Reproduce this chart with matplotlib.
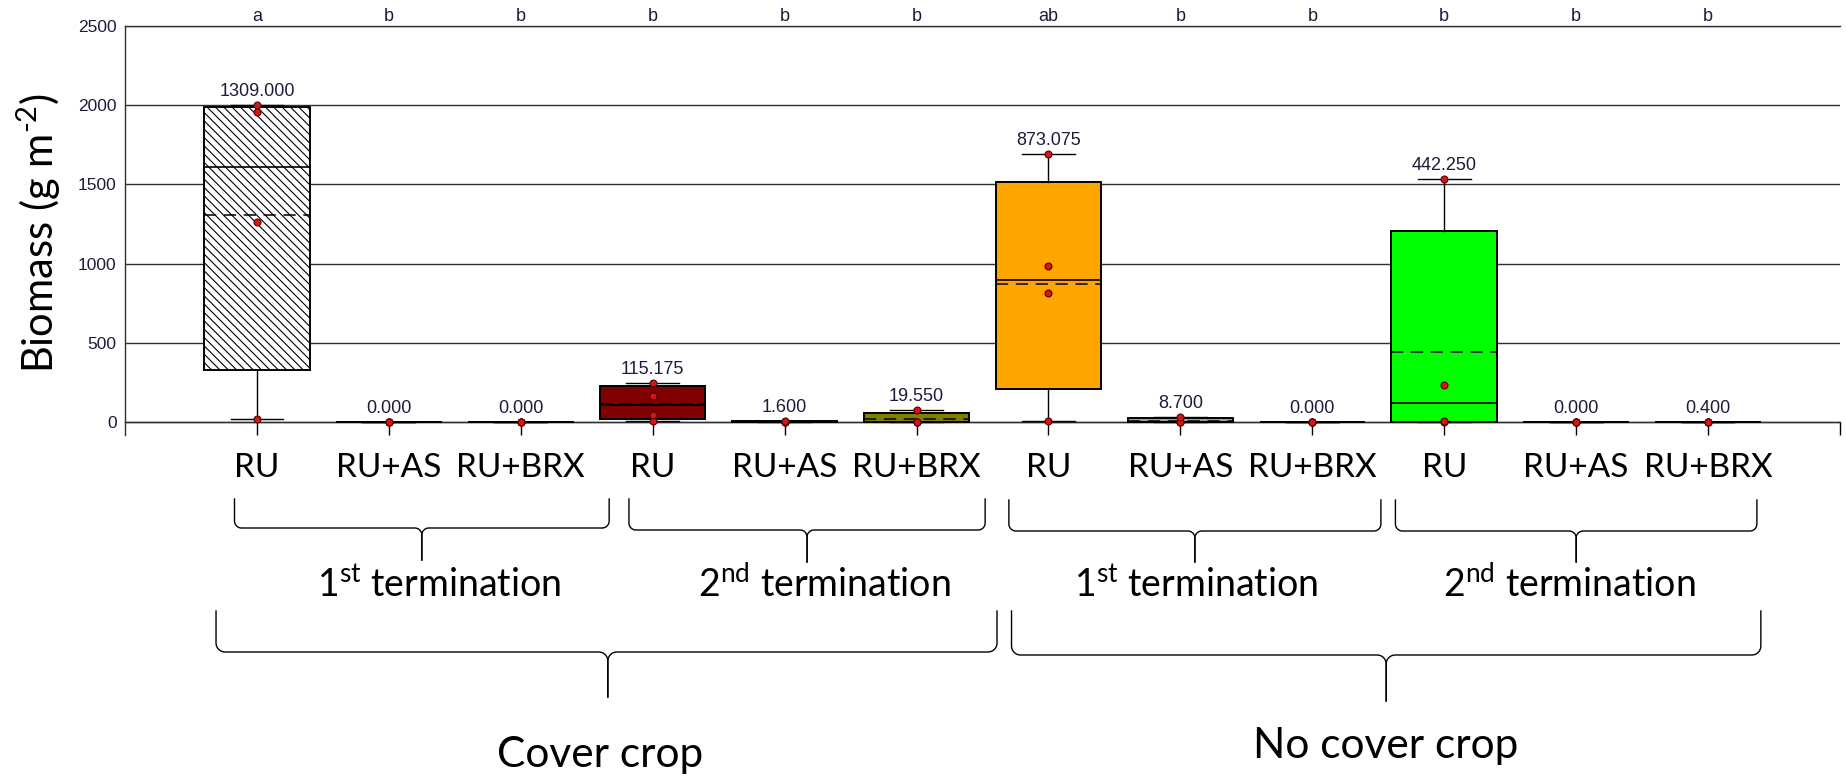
import matplotlib
matplotlib.use("Agg")
import matplotlib.pyplot as pyplot
import matplotlib.transforms as mtransforms
import numpy

pyplot.rcParams['font.family'] = ['Lato', 'DejaVu Sans']
pyplot.rcParams['mathtext.fontset'] = 'custom'
pyplot.rcParams['mathtext.rm'] = 'Lato'
pyplot.rcParams['mathtext.it'] = 'Lato:italic'
pyplot.rcParams['mathtext.bf'] = 'Lato:bold'
pyplot.rcParams['hatch.linewidth'] = 0.8

# replicate biomass values (g m-2) per treatment
ru_cc_t1 = [21, 1260, 1955, 2000]
ruas_cc_t1 = [0, 0, 0, 0]
rubrx_cc_t1 = [0, 0, 0, 0]
ru_cc_t2 = [6.7, 45, 165, 244]
ruas_cc_t2 = [0, 0, 0, 6.4]
rubrx_cc_t2 = [0, 0, 2.2, 76]
ru_ncc_t1 = [5, 812.3, 985, 1690]
ruas_ncc_t1 = [0, 0, 0.8, 34]
rubrx_ncc_t1 = [0, 0, 0, 0]
ru_ncc_t2 = [0, 4, 233, 1532]
ruas_ncc_t2 = [0, 0, 0, 0]
rubrx_ncc_t2 = [0, 0, 0, 1.6]

series = [ru_cc_t1, ruas_cc_t1, rubrx_cc_t1, ru_cc_t2, ruas_cc_t2, rubrx_cc_t2,
          ru_ncc_t1, ruas_ncc_t1, rubrx_ncc_t1, ru_ncc_t2, ruas_ncc_t2, rubrx_ncc_t2]
treatments = ["RU", "RU+AS", "RU+BRX"] * 4
letters = ["a", "b", "b", "b", "b", "b", "ab", "b", "b", "b", "b", "b"]
box_colors = ["white", "white", "white", "#800000", "white", "#808000",
              "#FFA500", "#A0A0A0", "white", "#00FF00", "white", "white"]
termination_labels = ["1$^{\\mathrm{st}}$ termination", "2$^{\\mathrm{nd}}$ termination"] * 2
crop_labels = ["Cover crop", "No cover crop"]

W, H = 1846, 776
fig = pyplot.figure(figsize=(W / 100, H / 100), dpi=100)
ax = fig.add_axes([125 / W, 1 - 435 / H, (1840 - 125) / W, (435 - 26) / H])

positions = numpy.arange(len(series))
stats = []
for vals in series:
    v = numpy.array(vals, dtype=float)
    stats.append(dict(
        med=numpy.median(v),
        q1=numpy.percentile(v, 25, method="weibull"),
        q3=numpy.percentile(v, 75, method="weibull"),
        whislo=v.min(), whishi=v.max(), mean=v.mean(), fliers=[],
    ))

bp = ax.bxp(stats, positions=positions, widths=0.8, patch_artist=True,
            showmeans=True, meanline=True, showfliers=False,
            boxprops=dict(edgecolor="black", linewidth=1.4),
            medianprops=dict(color="black", linewidth=1.2),
            meanprops=dict(color="black", linewidth=1.1, linestyle=(0, (8, 5))),
            whiskerprops=dict(color="black", linewidth=1.0),
            capprops=dict(color="black", linewidth=1.0), capwidths=0.4,
            zorder=3)
for patch, c in zip(bp["boxes"], box_colors):
    patch.set_facecolor(c)
bp["boxes"][0].set_hatch("\\\\\\\\")

for i, vals in enumerate(series):
    ax.plot([i] * len(vals), vals, "o", ms=5, mfc="#D01818", mec="#5a0000",
            mew=0.8, zorder=5, clip_on=False)
    ax.annotate(f"{numpy.mean(vals):.3f}", (i, max(vals)), xytext=(0, 6.5),
                textcoords="offset points", ha="center", va="baseline",
                fontsize=13, family="Liberation Sans", color="#1c1c3c")

ax.set_xlim(-1, 12)
ax.set_ylim(-82, 2500)
ax.set_yticks(range(0, 2501, 500))
ax.set_xticks(range(0, 13))
ax.set_xticklabels([])
ax.tick_params(axis="x", direction="out", length=9.5, width=1.0, color="black")
ax.tick_params(axis="y", length=0, pad=6, labelsize=12.5, labelcolor="#1c1c3c")
for lab in ax.get_yticklabels():
    lab.set_family("Liberation Sans")
ax.spines["right"].set_visible(False)
ax.spines["bottom"].set_position(("data", 0))
for s in ["left", "bottom", "top"]:
    ax.spines[s].set_color("#303030")
    ax.spines[s].set_linewidth(1.0)
ax.yaxis.grid(True, color="#303030", linewidth=1.0)
ax.set_axisbelow(True)

fig.text(39 / W, 1 - 233 / H, "Biomass (g m$^{\\text{-2}}$)", rotation=90,
         ha="center", va="center", fontsize=30)

blend = mtransforms.blended_transform_factory(ax.transData, fig.transFigure)
for i, t in enumerate(letters):
    ax.text(i, 1 - 21 / H, t, transform=blend, ha="center", va="baseline",
            fontsize=13, family="Liberation Sans", color="#1c1c3c")
for i, t in enumerate(treatments):
    ax.text(i, 1 - 477 / H, t, transform=blend, ha="center", va="baseline",
            fontsize=24, color="black")

term_x = [1.38, 4.30, 7.12, 9.95]
for x, t in zip(term_x, termination_labels):
    ax.text(x, 1 - 597 / H, t, transform=blend, ha="center", va="baseline",
            fontsize=27, color="black")
ax.text(2.60, 1 - 767 / H, crop_labels[0], transform=blend, ha="center",
        va="baseline", fontsize=30.5, color="black")
ax.text(8.56, 1 - 758 / H, crop_labels[1], transform=blend, ha="center",
        va="baseline", fontsize=30.5, color="black")


def draw_brace(xl, xr, xm, ytop, ymid, ytip, r):
    # x in data units, y in image pixels (from top)
    pl = ax.transData.transform((xl, 0))[0]
    pr = ax.transData.transform((xr, 0))[0]
    pm = ax.transData.transform((xm, 0))[0]
    th = numpy.linspace(0, numpy.pi / 2, 12)
    for xa, s in [(pl, 1), (pr, -1)]:
        xs = [xa]
        ys = [ytop]
        cx, cy = xa + s * r, ymid - r
        xs += list(cx - s * r * numpy.cos(th))
        ys += list(cy + r * numpy.sin(th))
        cx, cy = pm - s * r, ymid + r
        xs += list(cx + s * r * numpy.sin(th))
        ys += list(cy - r * numpy.cos(th))
        xs.append(pm)
        ys.append(ytip)
        xs = numpy.array(xs) / W
        ys = 1 - numpy.array(ys) / H
        fig.add_artist(pyplot.Line2D(xs, ys, transform=fig.transFigure,
                                     color="black", linewidth=1.0))


draw_brace(-0.17, 2.67, 1.25, 499, 528, 560, 7)
draw_brace(2.82, 5.52, 4.17, 499, 530, 562, 7)
draw_brace(5.70, 8.52, 7.11, 500, 531, 562, 7)
draw_brace(8.63, 11.37, 10.00, 500, 531, 562, 7)
draw_brace(-0.31, 5.61, 2.66, 611, 652, 697, 9)
draw_brace(5.72, 11.40, 8.56, 611, 655, 701, 9)

fig.savefig("out.png", dpi=100)
